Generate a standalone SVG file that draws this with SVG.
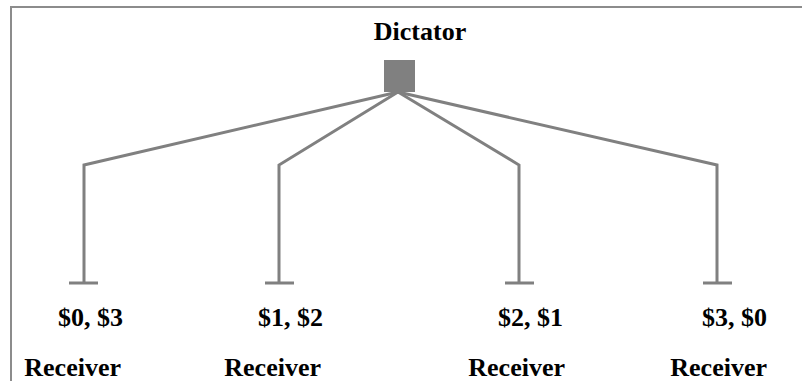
<svg xmlns="http://www.w3.org/2000/svg" width="802" height="381" viewBox="0 0 802 381">
<style>
.frame{fill:none;stroke:#8c8c8c;stroke-width:2}
.edge{fill:none;stroke:#808080;stroke-width:3}
.lbl{font-family:"Liberation Serif","Times New Roman",serif;font-weight:bold;font-size:26px;fill:#000}
.r{text-anchor:end}
</style>
<rect width="802" height="381" fill="#fff"/>
<path class="frame" d="M802,7 H11 V381"/>
<g id="connectors">
<path class="edge" d="M398,92 L84,165 V283"/>
<path class="edge" d="M398,92 L279,165 V283"/>
<path class="edge" d="M398,92 L519,165 V283"/>
<path class="edge" d="M398,92 L717,165 V283"/>
<path class="edge" d="M69,283 H98 M265,283 H294 M505,283 H534 M703,283 H732"/>
</g>
<g id="dictator">
<rect x="384" y="60" width="31" height="32" fill="#808080"/>
<text class="lbl" x="420" y="40" text-anchor="middle">Dictator</text>
</g>
<g id="leaf1">
<text class="lbl r" x="123" y="326">$0, $3</text>
<text class="lbl r" x="121" y="376">Receiver</text>
</g>
<g id="leaf2">
<text class="lbl r" x="323" y="326">$1, $2</text>
<text class="lbl r" x="321" y="376">Receiver</text>
</g>
<g id="leaf3">
<text class="lbl r" x="563" y="326">$2, $1</text>
<text class="lbl r" x="565" y="376">Receiver</text>
</g>
<g id="leaf4">
<text class="lbl r" x="767" y="326">$3, $0</text>
<text class="lbl r" x="767" y="376">Receiver</text>
</g>
</svg>
